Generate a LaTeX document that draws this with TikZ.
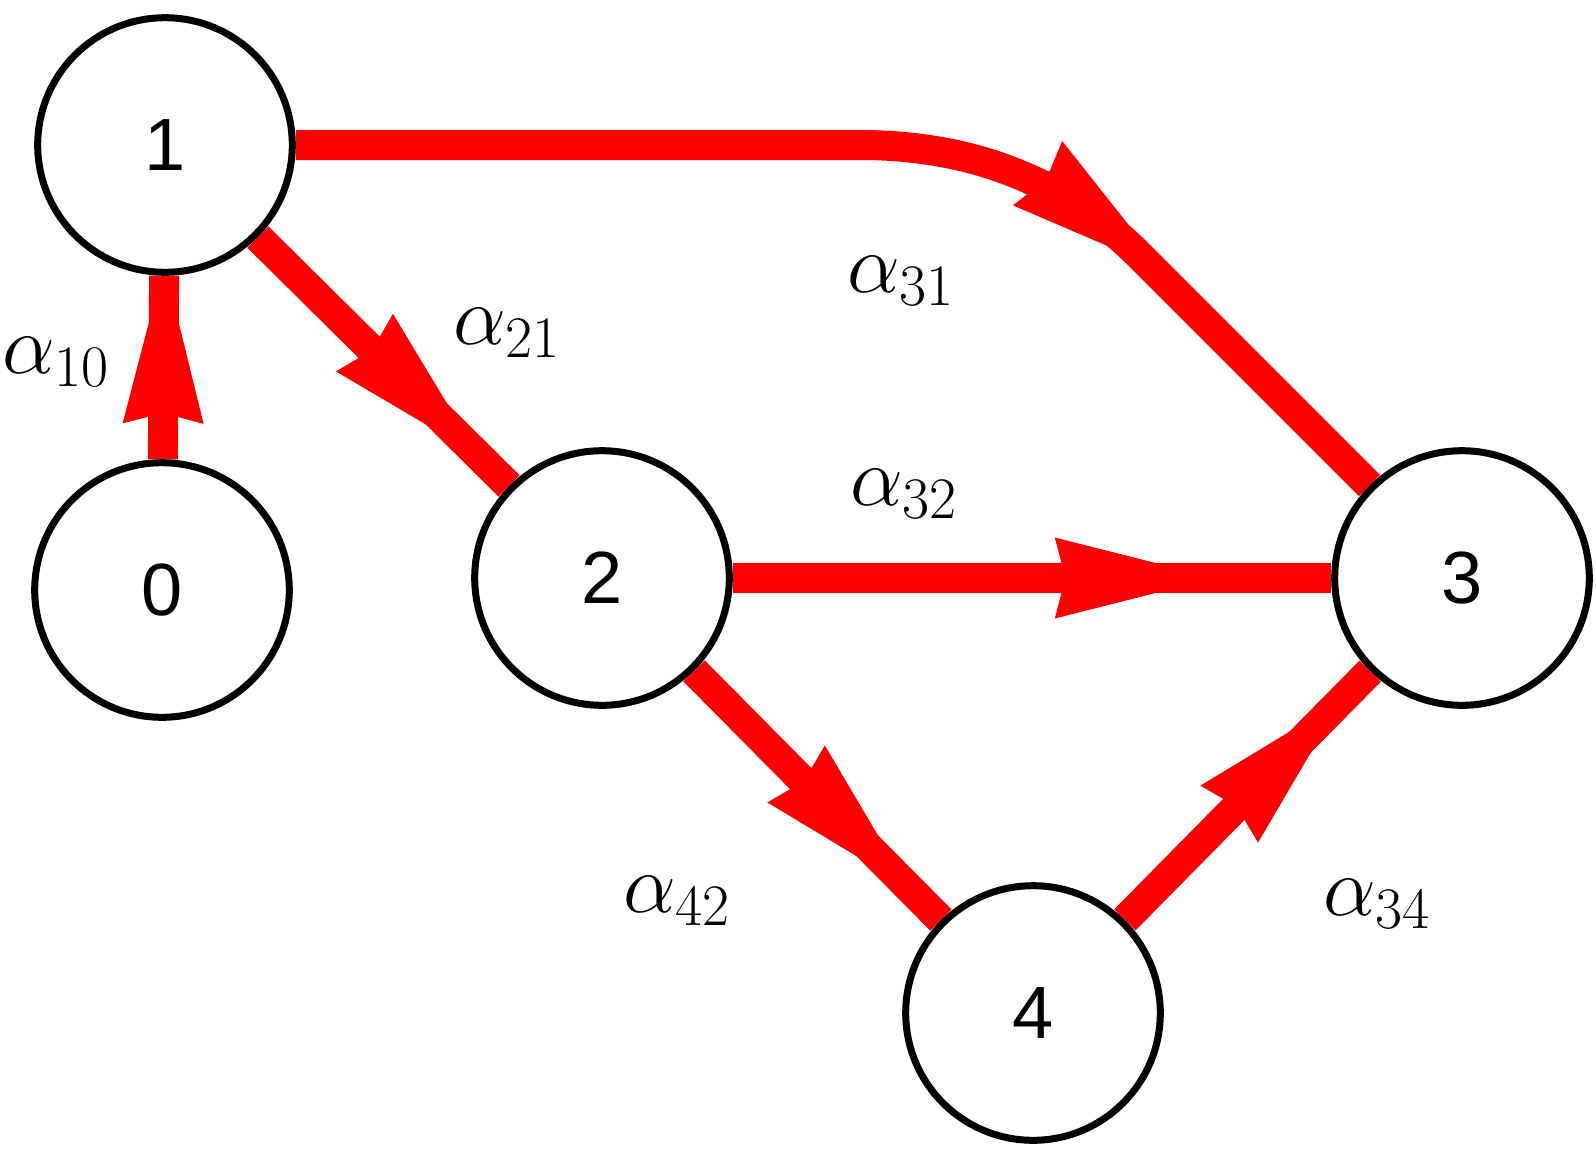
\RequirePackage{fix-cm}
\documentclass[tikz,border=0pt]{standalone}
\usepackage{fontspec}
\newfontfamily\statefont{Liberation Sans}
\usetikzlibrary{arrows.meta,decorations.markings,backgrounds}
\definecolor{edge_red}{RGB}{255,0,0}

\begin{document}
\begin{tikzpicture}[x=0.5pt,y=-0.5pt,
  state/.style={circle,draw=black,line width=3.5pt,fill=white,minimum size=127.3pt,inner sep=0pt,font=\statefont\fontsize{37}{40}\selectfont},
  rate/.style={inner sep=0pt,font=\fontsize{42}{48}\selectfont},
  flow/.style={line width=15pt,edge_red,postaction={decorate},
    decoration={markings,mark=at position #1 with {\arrow[xshift=40pt]{Stealth[length=80pt,width=40.5pt,inset=5.3pt,line width=0pt]}}}}]
\useasboundingbox (0,0) rectangle (1596,1148);
\node[state] (n1) at (165,145) {1};
\node[state] (n0) at (162,590) {0};
\node[state] (n2) at (602,578) {2};
\node[state] (n3) at (1462,578) {3};
\node[state] (n4) at (1033,1013) {4};
\coordinate (bendin) at (860,145);
\coordinate (bendout) at (1140,256);
\node[rate] (a10) at (56,362) {$\alpha_{10}$};
\node[rate] (a21) at (507,333) {$\alpha_{21}$};
\node[rate] (a31) at (901,281) {$\alpha_{31}$};
\node[rate] (a32) at (904,494) {$\alpha_{32}$};
\node[rate] (a42) at (677,901) {$\alpha_{42}$};
\node[rate] (a34) at (1377,904) {$\alpha_{34}$};
\begin{scope}[on background layer]
\draw[flow=57.8pt] (n0) -- (n1);
\draw[flow=115pt] (n1) -- (n2);
\draw[flow=411pt] (n1) -- (bendin) .. controls (973,145) and (1066,182) .. (bendout) -- (n3);
\draw[flow=201pt] (n2) -- (n3);
\draw[flow=112.5pt] (n2) -- (n4);
\draw[flow=114.3pt] (n4) -- (n3);
\end{scope}
\end{tikzpicture}
\end{document}
